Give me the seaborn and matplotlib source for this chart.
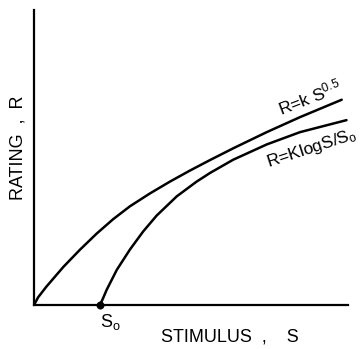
import matplotlib
matplotlib.use("Agg")
import matplotlib.pyplot as plt
import seaborn as sns
import pandas as pd

# Power-law rating curve  R = k S^0.5
power_s = [0.0, 0.14, 0.42, 0.98, 1.53, 2.09, 2.64, 3.20, 3.87, 4.53, 5.20, 5.87,
           6.64, 7.76, 8.87, 10.26]
power_r = [0.0, 0.26, 0.62, 1.27, 1.84, 2.38, 2.86, 3.29, 3.72, 4.11, 4.48, 4.83,
           5.22, 5.76, 6.26, 6.84]

# Logarithmic rating curve  R = K log S/S0
log_s = [2.20, 2.31, 2.42, 2.76, 3.20, 3.64, 4.09, 4.76, 5.42, 5.87, 6.64, 7.76,
         8.87, 10.42]
log_r = [0.0, 0.24, 0.50, 1.17, 1.85, 2.45, 2.98, 3.62, 4.11, 4.40, 4.84, 5.35,
         5.76, 6.16]

threshold = 2.20  # S0

sns.set_style("white")
plt.rcParams["font.family"] = ["Liberation Sans", "DejaVu Sans"]
plt.rcParams["mathtext.fontset"] = "custom"
plt.rcParams["mathtext.rm"] = "Liberation Sans"
plt.rcParams["mathtext.it"] = "Liberation Sans"
for key in ("text.color", "axes.labelcolor", "xtick.color", "ytick.color"):
    plt.rcParams[key] = "black"

fig = plt.figure(figsize=(3.64, 3.49), dpi=100)
ax = fig.add_axes([34 / 364, 44 / 349, 314 / 364, 295 / 349])

power_df = pd.DataFrame({"S": power_s, "R": power_r})
log_df = pd.DataFrame({"S": log_s, "R": log_r})
sns.lineplot(data=power_df, x="S", y="R", ax=ax, color="black", lw=1.8, sort=False)
sns.lineplot(data=log_df, x="S", y="R", ax=ax, color="black", lw=1.8, sort=False)
sns.scatterplot(x=[threshold], y=[0.0], ax=ax, color="black", s=28, zorder=5,
                clip_on=False, edgecolor="black")

ax.set_xlim(0, 10.47)
ax.set_ylim(0, 9.83)
sns.despine(ax=ax)
for side in ("left", "bottom"):
    ax.spines[side].set_color("black")
    ax.spines[side].set_linewidth(1.6)

ax.set_yticks([])
ax.set_xticks([threshold], labels=["S$_\\mathregular{o}$"])
ax.tick_params(axis="x", length=0, pad=5, labelsize=13)
for lab in ax.get_xticklabels():
    lab.set_horizontalalignment("left")

ax.set_xlabel("STIMULUS  ,    S", fontsize=13)
ax.xaxis.set_label_coords(0.623, -0.108)
ax.xaxis.label.set_va("center")
ax.set_ylabel("RATING  ,  R", fontsize=13)
ax.yaxis.set_label_coords(-0.051, 0.532)
ax.yaxis.label.set_va("center")

ax.text(9.2, 6.92, "R=k S$^{\\mathregular{0.5}}$", rotation=21, fontsize=12.5,
        ha="center", va="center", rotation_mode="anchor")
ax.text(9.27, 5.23, "R=KlogS/S$_\\mathregular{o}$", rotation=18, fontsize=12.5,
        ha="center", va="center", rotation_mode="anchor")

fig.savefig("out.png", dpi=100, facecolor="white")
